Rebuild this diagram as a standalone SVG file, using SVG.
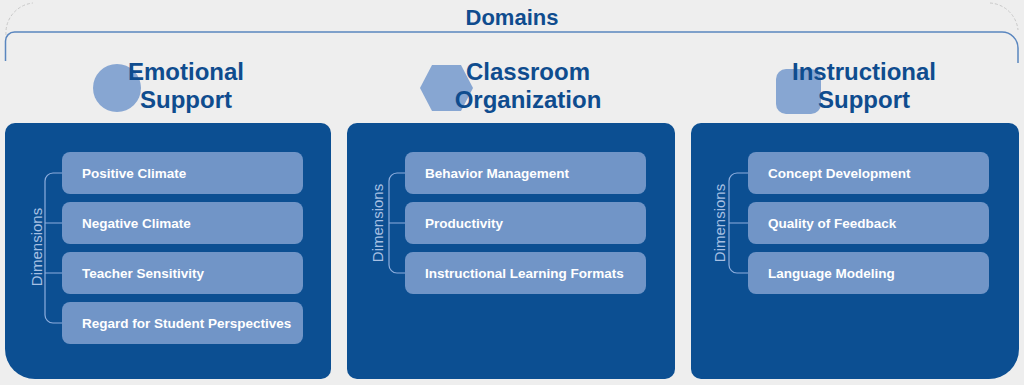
<svg xmlns="http://www.w3.org/2000/svg" width="1024" height="385" viewBox="0 0 1024 385">
<defs>
<style>
.bg{fill:#eeeeee}
.frame{fill:none;stroke:#5a86bf;stroke-width:1.5}
.faint{fill:none;stroke:#c9c9c9;stroke-width:1;stroke-dasharray:3 2}
.title{font-family:"Liberation Sans",Arial,sans-serif;font-weight:700;font-size:22px;fill:#0f4c8e;text-anchor:middle}
.head{font-family:"Liberation Sans",Arial,sans-serif;font-weight:700;font-size:24px;fill:#0f4c8e;text-anchor:middle}
.shape{fill:#87a6d2}
.panel{fill:#0c4f92}
.box{fill:#7195c7}
.item{font-family:"Liberation Sans",Arial,sans-serif;font-weight:700;font-size:13.5px;fill:#ffffff}
.dim{font-family:"Liberation Sans",Arial,sans-serif;font-weight:400;font-size:15px;fill:#a8c0e3;text-anchor:middle}
.br{fill:none;stroke:#8eaede;stroke-width:1.2}
</style>
</defs>
<rect class="bg" x="0" y="0" width="1024" height="385"/>
<path class="faint" d="M6,35 A30,30 0 0 1 33,3"/>
<path class="faint" d="M990,3 A30,30 0 0 1 1018,30"/>
<path class="frame" d="M5.5,61 V41 A9,9 0 0 1 14.5,32 H1002 A16,16 0 0 1 1018,48 V63"/>
<text class="title" x="512" y="25">Domains</text>

<g id="emotional-support">
<circle class="shape" cx="117" cy="88" r="24"/>
<text class="head" x="186" y="80">Emotional</text>
<text class="head" x="186" y="108">Support</text>
<path class="panel" d="M15,123 H321 A10,10 0 0 1 331,133 V369 A10,10 0 0 1 321,379 H35 A30,30 0 0 1 5,349 V133 A10,10 0 0 1 15,123 Z"/>
<text class="dim" transform="translate(42,247) rotate(-90)">Dimensions</text>
<g id="positive-climate"><rect class="box" x="62" y="152" width="241" height="42" rx="8"/><text class="item" x="82" y="178">Positive Climate</text></g>
<g id="negative-climate"><rect class="box" x="62" y="202" width="241" height="42" rx="8"/><text class="item" x="82" y="228">Negative Climate</text></g>
<g id="teacher-sensitivity"><rect class="box" x="62" y="252" width="241" height="42" rx="8"/><text class="item" x="82" y="278">Teacher Sensitivity</text></g>
<g id="regard-student-perspectives"><rect class="box" x="62" y="302" width="241" height="42" rx="8"/><text class="item" x="82" y="328">Regard for Student Perspectives</text></g>
</g>

<g id="classroom-organization">
<polygon class="shape" points="420,88 432,65 461,65 473,88 461,111 432,111"/>
<text class="head" x="528" y="80">Classroom</text>
<text class="head" x="528" y="108">Organization</text>
<rect class="panel" x="347" y="123" width="328" height="256" rx="10"/>
<text class="dim" transform="translate(383,223) rotate(-90)">Dimensions</text>
<g id="behavior-management"><rect class="box" x="405" y="152" width="241" height="42" rx="8"/><text class="item" x="425" y="178">Behavior Management</text></g>
<g id="productivity"><rect class="box" x="405" y="202" width="241" height="42" rx="8"/><text class="item" x="425" y="228">Productivity</text></g>
<g id="instructional-learning-formats"><rect class="box" x="405" y="252" width="241" height="42" rx="8"/><text class="item" x="425" y="278">Instructional Learning Formats</text></g>
</g>

<g id="instructional-support">
<rect class="shape" x="776" y="69" width="45" height="45" rx="10"/>
<text class="head" x="864" y="80">Instructional</text>
<text class="head" x="864" y="108">Support</text>
<path class="panel" d="M701,123 H1009 A10,10 0 0 1 1019,133 V349 A30,30 0 0 1 989,379 H701 A10,10 0 0 1 691,369 V133 A10,10 0 0 1 701,123 Z"/>
<text class="dim" transform="translate(725,223) rotate(-90)">Dimensions</text>
<g id="concept-development"><rect class="box" x="748" y="152" width="241" height="42" rx="8"/><text class="item" x="768" y="178">Concept Development</text></g>
<g id="quality-of-feedback"><rect class="box" x="748" y="202" width="241" height="42" rx="8"/><text class="item" x="768" y="228">Quality of Feedback</text></g>
<g id="language-modeling"><rect class="box" x="748" y="252" width="241" height="42" rx="8"/><text class="item" x="768" y="278">Language Modeling</text></g>
</g>

<g id="connectors">
<path class="br" d="M62,173 H53 A8,8 0 0 0 45,181 V315 A8,8 0 0 0 53,323 H62 M45,223 H62 M45,273 H62"/>
<path class="br" d="M405,173 H397 A8,8 0 0 0 389,181 V265 A8,8 0 0 0 397,273 H405 M389,223 H405"/>
<path class="br" d="M748,173 H737 A8,8 0 0 0 729,181 V265 A8,8 0 0 0 737,273 H748 M729,223 H748"/>
</g>
</svg>
